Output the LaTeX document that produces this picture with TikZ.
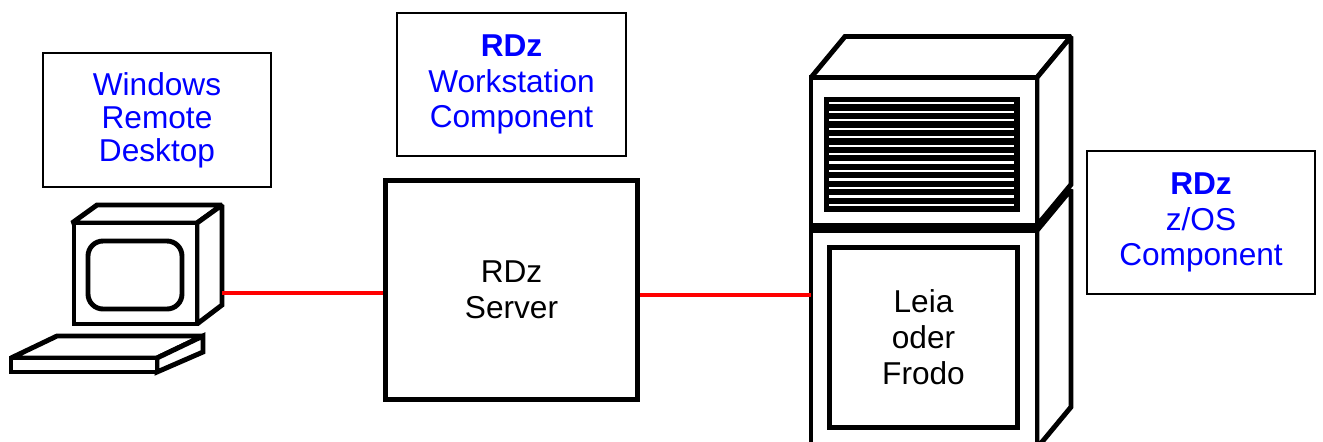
\documentclass[tikz,border=0pt]{standalone}
\usepackage{fontspec}
\setmainfont{Liberation Sans}
\usetikzlibrary{positioning}
\definecolor{labelblue}{RGB}{0,0,255}
\definecolor{linkred}{RGB}{255,0,0}

\begin{document}
\begin{tikzpicture}[x=0.02cm, y=-0.02cm,
    hw/.style={line width=2.8pt, draw=black, fill=white, miter limit=2},
    label/.style={draw=black, line width=0.9pt, text=labelblue, align=center, inner sep=0pt},
    link/.style={draw=linkred, line width=2.3pt},
    every node/.style={font=\fontsize{18}{20.4}\selectfont}]
    \useasboundingbox (0,0) rectangle (1323,441);
    \clip (0,0) rectangle (1323,441);

    % PC: monitor
    \draw[hw] (72,223) -- (97,205) -- (222,205) -- (197,223) -- cycle;
    \draw[hw] (197,223) -- (222,205) -- (222,305) -- (197,324) -- cycle;
    \draw[hw] (74,223) rectangle (197,324);
    \draw[hw, rounded corners=0.3cm] (88,241) rectangle (182,309);
    \coordinate (pcport) at (222,293);

    % PC: keyboard
    \draw[hw] (11,358) -- (57,336) -- (203,336) -- (157,358) -- cycle;
    \draw[hw] (157,358) -- (203,336) -- (203,352) -- (157,372) -- cycle;
    \draw[hw] (11,358) rectangle (157,372);

    % Server box
    \node[draw, line width=2.8pt, minimum width=5.04cm, minimum height=4.38cm, align=center]
        (server) at (511.5,290) {RDz\\Server};

    % Mainframe: top and side faces
    \draw[hw] (811,77.5) -- (845,36.5) -- (1071,36.5) -- (1037,77.5) -- cycle;
    \draw[hw] (1037,77.5) -- (1071,36.5) -- (1071,184.5) -- (1037,225.5) -- cycle;
    \draw[hw] (1037,230.5) -- (1071,189.5) -- (1071,407) -- (1037,448) -- cycle;

    % Mainframe: front faces
    \draw[hw] (811,77.5) rectangle (1037,225.5);
    \draw[hw] (811,230.5) rectangle (1037,460);
    \coordinate (mfport) at (811,295);

    % Vent grille
    \fill[black] (824,97) rectangle (1020,212);
    \foreach \i in {0,...,12}
        \draw[white, line width=1.3pt] (829,103.3+8.47*\i) -- (1014,103.3+8.47*\i);

    % Host box
    \node[draw, line width=2.8pt, minimum width=3.76cm, minimum height=3.6cm, align=center]
        (host) at (923.5,337.5) {Leia\\oder\\Frodo};

    % Labels
    \node[label, minimum width=4.56cm, minimum height=2.68cm,
        font=\fontsize{18}{18.8}\selectfont] (win) at (157,120) {Windows\\Remote\\Desktop};
    \node[label, minimum width=4.58cm, minimum height=2.86cm]
        (ws) at (511.5,84.5) {\textbf{RDz}\\Workstation\\Component};
    \node[label, minimum width=4.56cm, minimum height=2.86cm]
        (zos) at (1201,222.5) {\textbf{RDz}\\z/OS\\Component};

    % Connections
    \draw[link] (pcport) -- (pcport -| server.west);
    \draw[link] (server.east |- mfport) -- (mfport);
\end{tikzpicture}
\end{document}
